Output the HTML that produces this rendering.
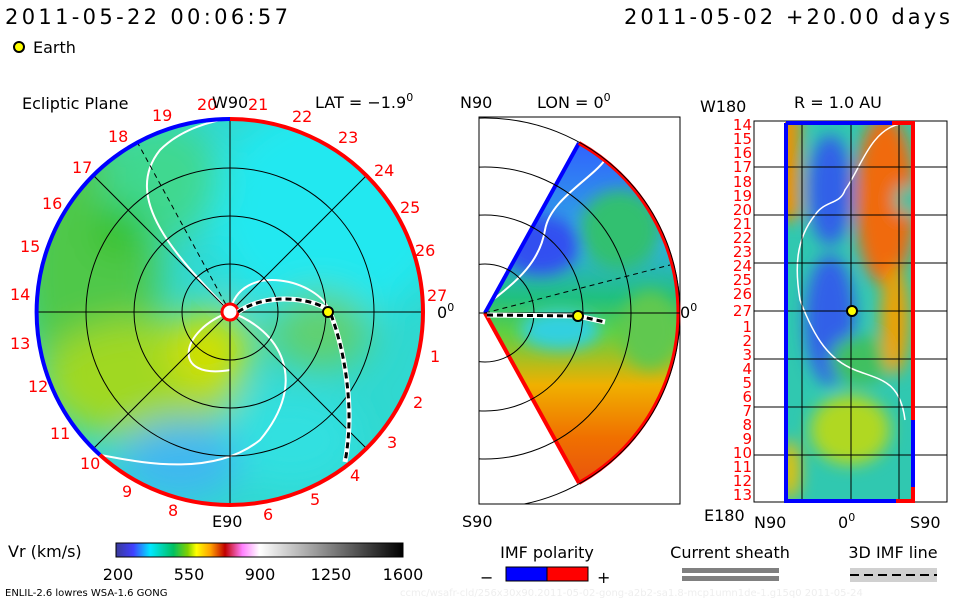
<!DOCTYPE html>
<html><head><meta charset="utf-8"><style>
body{margin:0;background:#fff;width:960px;height:600px;overflow:hidden}
svg{display:block}
text{font-family:"DejaVu Sans","Liberation Sans",sans-serif}
</style></head><body>
<svg width="960" height="600" viewBox="0 0 960 600">
<defs>
<filter id="bl" x="-50%" y="-50%" width="200%" height="200%"><feGaussianBlur stdDeviation="18"/></filter>
<filter id="bl2" x="-50%" y="-50%" width="200%" height="200%"><feGaussianBlur stdDeviation="8"/></filter>
<clipPath id="disc"><circle cx="230" cy="312" r="193"/></clipPath>
<clipPath id="wedge"><path d="M485,313 L579,143 A195,195 0 0 1 579,483 Z"/></clipPath>
<clipPath id="box"><rect x="479" y="117" width="201" height="387"/></clipPath>
<clipPath id="rect"><rect x="785" y="122" width="129" height="380"/></clipPath>
<linearGradient id="cb" x1="0" x2="1">
<stop offset="0" stop-color="#3a3a9a"/><stop offset="0.06" stop-color="#4040ff"/><stop offset="0.12" stop-color="#00e8ff"/>
<stop offset="0.2" stop-color="#00c060"/><stop offset="0.25" stop-color="#80d000"/><stop offset="0.28" stop-color="#ffff00"/>
<stop offset="0.33" stop-color="#ffa000"/><stop offset="0.38" stop-color="#c00000"/><stop offset="0.44" stop-color="#ff80ff"/>
<stop offset="0.5" stop-color="#ffffff"/><stop offset="1" stop-color="#000"/></linearGradient>
<linearGradient id="wg" x1="0" y1="0" x2="0" y2="1">
<stop offset="0" stop-color="#3060ff"/><stop offset="0.3" stop-color="#30b0e0"/><stop offset="0.45" stop-color="#20c080"/>
<stop offset="0.55" stop-color="#60d040"/><stop offset="0.7" stop-color="#f0b000"/><stop offset="0.85" stop-color="#f07000"/><stop offset="1" stop-color="#e85010"/></linearGradient>
</defs>
<rect width="960" height="600" fill="#fff"/>
<text x="5" y="24" font-size="21" textLength="283" lengthAdjust="spacing">2011-05-22 00:06:57</text>
<text x="624" y="24" font-size="21" textLength="326" lengthAdjust="spacing">2011-05-02 +20.00 days</text>
<circle cx="19" cy="47" r="5" fill="#ff0" stroke="#000" stroke-width="2"/>
<text x="33" y="53" font-size="16">Earth</text>
<!-- left disc -->
<g clip-path="url(#disc)">
<rect x="30" y="110" width="400" height="410" fill="#30d8d0"/>
<g filter="url(#bl)">
<ellipse cx="330" cy="210" rx="120" ry="110" fill="#20e8f0"/>
<ellipse cx="90" cy="270" rx="70" ry="130" fill="#50c848"/>
<ellipse cx="140" cy="380" rx="100" ry="60" fill="#a0d820"/>
<ellipse cx="210" cy="350" rx="40" ry="40" fill="#d0e000"/>
<ellipse cx="290" cy="440" rx="70" ry="50" fill="#30e0e0"/>
<ellipse cx="320" cy="330" rx="50" ry="40" fill="#60d070"/>
<ellipse cx="160" cy="180" rx="60" ry="60" fill="#40d890"/>
<ellipse cx="180" cy="460" rx="60" ry="40" fill="#40b8f0"/>
<ellipse cx="120" cy="230" rx="25" ry="25" fill="#30c020"/>
</g>
<g fill="none" stroke="#fff" stroke-width="2">
<path d="M230,312 C180,260 120,200 160,150 C190,120 240,115 270,115"/>
<path d="M230,312 C280,330 310,380 260,440 C210,480 130,460 100,455"/>
<path d="M230,312 C240,260 320,280 330,312"/>
<path d="M230,312 C180,330 170,380 230,370"/>
</g>
<g fill="none" stroke="#000" stroke-width="1">
<circle cx="230" cy="312" r="48"/><circle cx="230" cy="312" r="96"/><circle cx="230" cy="312" r="144"/>
<line x1="30" y1="312" x2="430" y2="312"/><line x1="230" y1="110" x2="230" y2="515"/>
<line x1="90" y1="172" x2="370" y2="452"/><line x1="90" y1="452" x2="370" y2="172"/>
</g>
<line x1="230" y1="312" x2="135" y2="138" stroke="#000" stroke-dasharray="5,4"/>
</g>
<path d="M230,119 A193,193 0 0 1 230,505" fill="none" stroke="#f00" stroke-width="4"/>
<path d="M230,119 A193,193 0 0 0 100,455" fill="none" stroke="#00f" stroke-width="4"/>
<path d="M100,455 A193,193 0 0 0 230,505" fill="none" stroke="#f00" stroke-width="4"/>
<circle cx="230" cy="312" r="8" fill="#fff" stroke="#f00" stroke-width="3"/>
<path d="M238,312 C270,290 320,300 330,312 C345,350 355,410 345,462" fill="none" stroke="#fff" stroke-width="5"/>
<path d="M238,312 C270,290 320,300 330,312 C345,350 355,410 345,462" fill="none" stroke="#000" stroke-width="3" stroke-dasharray="6,4"/>
<circle cx="328" cy="312" r="5" fill="#ff0" stroke="#000" stroke-width="2"/>
<g font-size="16" fill="#f00">
<text x="197" y="110">20</text><text x="248" y="110">21</text><text x="292" y="122">22</text><text x="338" y="143">23</text>
<text x="374" y="176">24</text><text x="400" y="213">25</text><text x="415" y="256">26</text><text x="427" y="301">27</text>
<text x="430" y="362">1</text><text x="413" y="408">2</text><text x="387" y="448">3</text><text x="350" y="481">4</text>
<text x="310" y="505">5</text><text x="263" y="520">6</text><text x="168" y="516">8</text><text x="122" y="497">9</text>
<text x="80" y="469">10</text><text x="50" y="439">11</text><text x="28" y="392">12</text><text x="10" y="349">13</text>
<text x="10" y="300">14</text><text x="20" y="252">15</text><text x="42" y="209">16</text><text x="72" y="173">17</text>
<text x="108" y="142">18</text><text x="152" y="121">19</text>
</g>
<text x="22" y="109" font-size="16">Ecliptic Plane</text>
<text x="212" y="108" font-size="16">W90</text>
<text x="212" y="527" font-size="16">E90</text>
<text x="315" y="108" font-size="16">LAT = −1.9<tspan font-size="11" dy="-7">0</tspan></text>
<text x="437" y="318" font-size="16">0<tspan font-size="11" dy="-7">0</tspan></text>
<!-- middle wedge -->
<rect x="479" y="117" width="201" height="387" fill="none" stroke="#000"/>
<g clip-path="url(#wedge)">
<rect x="479" y="140" width="210" height="350" fill="url(#wg)"/>
<g filter="url(#bl2)">
<ellipse cx="540" cy="245" rx="40" ry="30" fill="#3050f0"/>
<ellipse cx="620" cy="230" rx="40" ry="40" fill="#30c070"/>
<ellipse cx="650" cy="330" rx="30" ry="40" fill="#60c850"/>
<ellipse cx="560" cy="330" rx="40" ry="20" fill="#30d0e0"/>
</g>
<path d="M486,305 C520,280 540,260 545,230 C550,200 590,180 605,160" fill="none" stroke="#fff" stroke-width="2"/>
</g>
<path d="M485,313 L579,143" stroke="#00f" stroke-width="4"/>
<path d="M485,313 L579,483" stroke="#f00" stroke-width="4"/>
<path d="M579,143 A195,195 0 0 1 579,483" fill="none" stroke="#f00" stroke-width="4"/>
<g fill="none" stroke="#000" stroke-width="1" clip-path="url(#box)">
<circle cx="485" cy="313" r="49"/><circle cx="485" cy="313" r="98"/><circle cx="485" cy="313" r="146"/><circle cx="485" cy="313" r="195"/>
<line x1="479" y1="313" x2="680" y2="313"/>
</g>
<line x1="485" y1="313" x2="670" y2="265" stroke="#000" stroke-dasharray="5,4"/>
<path d="M487,315 L578,316 L605,322" fill="none" stroke="#fff" stroke-width="5"/>
<path d="M487,315 L578,316 L605,322" fill="none" stroke="#000" stroke-width="3" stroke-dasharray="6,4"/>
<circle cx="578" cy="316" r="5" fill="#ff0" stroke="#000" stroke-width="2"/>
<text x="460" y="108" font-size="16">N90</text>
<text x="537" y="108" font-size="16">LON = 0<tspan font-size="11" dy="-7">0</tspan></text>
<text x="462" y="527" font-size="16">S90</text>
<text x="680" y="318" font-size="16">0<tspan font-size="11" dy="-7">0</tspan></text>
<!-- right panel -->
<rect x="754" y="121" width="193" height="381" fill="none" stroke="#000"/>
<g clip-path="url(#rect)">
<rect x="785" y="122" width="129" height="380" fill="#30c8b0"/>
<g filter="url(#bl2)">
<rect x="775" y="110" width="25" height="110" fill="#f09000"/>
<ellipse cx="885" cy="200" rx="30" ry="85" fill="#f06a10"/>
<ellipse cx="830" cy="190" rx="22" ry="55" fill="#3060e8"/>
<ellipse cx="830" cy="320" rx="25" ry="65" fill="#3060e8"/>
<ellipse cx="860" cy="360" rx="30" ry="25" fill="#40c060"/>
<ellipse cx="850" cy="430" rx="40" ry="35" fill="#b0d820"/>
<ellipse cx="895" cy="320" rx="14" ry="55" fill="#f0a000"/>
<ellipse cx="790" cy="470" rx="10" ry="30" fill="#f0c000"/>
<ellipse cx="905" cy="200" rx="10" ry="15" fill="#30c0a0"/>
</g>
<path d="M900,124 C870,130 860,170 845,190 C840,205 825,200 815,215 C795,240 795,270 800,300 C815,340 830,360 855,370 C880,380 900,380 905,420" fill="none" stroke="#fff" stroke-width="1.5"/>
</g>
<g stroke="#000" stroke-width="1">
<line x1="754" y1="167" x2="947" y2="167"/><line x1="754" y1="215" x2="947" y2="215"/><line x1="754" y1="263" x2="947" y2="263"/>
<line x1="754" y1="311" x2="947" y2="311"/><line x1="754" y1="359" x2="947" y2="359"/><line x1="754" y1="407" x2="947" y2="407"/>
<line x1="754" y1="455" x2="947" y2="455"/>
<line x1="802" y1="122" x2="802" y2="502"/><line x1="851" y1="122" x2="851" y2="502"/><line x1="899" y1="122" x2="899" y2="502"/>
</g>
<path d="M786,123 L892,123 M786,123 L786,501 L896,501" fill="none" stroke="#00f" stroke-width="4"/>
<path d="M892,123 L913,123 L913,420" fill="none" stroke="#f00" stroke-width="4"/>
<path d="M913,420 L913,487" stroke="#00f" stroke-width="4"/>
<path d="M913,487 L913,501 L896,501" fill="none" stroke="#f00" stroke-width="4"/>
<circle cx="852" cy="311" r="5" fill="#ff0" stroke="#000" stroke-width="2"/>
<g font-size="15" fill="#f00" text-anchor="end">
<text x="752" y="130">14</text><text x="752" y="144">15</text><text x="752" y="158">16</text><text x="752" y="172">17</text>
<text x="752" y="187">18</text><text x="752" y="201">19</text><text x="752" y="215">20</text><text x="752" y="229">21</text>
<text x="752" y="243">22</text><text x="752" y="257">23</text><text x="752" y="271">24</text><text x="752" y="285">25</text>
<text x="752" y="299">26</text><text x="752" y="316">27</text><text x="752" y="332">1</text><text x="752" y="346">2</text>
<text x="752" y="360">3</text><text x="752" y="374">4</text><text x="752" y="388">5</text><text x="752" y="402">6</text>
<text x="752" y="416">7</text><text x="752" y="430">8</text><text x="752" y="444">9</text><text x="752" y="458">10</text>
<text x="752" y="472">11</text><text x="752" y="486">12</text><text x="752" y="500">13</text>
</g>
<text x="700" y="112" font-size="16">W180</text>
<text x="794" y="108" font-size="16">R = 1.0 AU</text>
<text x="704" y="521" font-size="16">E180</text>
<text x="754" y="528" font-size="16">N90</text>
<text x="838" y="528" font-size="16">0<tspan font-size="11" dy="-7">0</tspan></text>
<text x="910" y="528" font-size="16">S90</text>
<!-- colorbar -->
<text x="8" y="557" font-size="16">Vr (km/s)</text>
<rect x="116" y="543" width="287" height="14" fill="url(#cb)" stroke="#000"/>
<g font-size="16" text-anchor="middle"><text x="118" y="580">200</text><text x="189" y="580">550</text><text x="260" y="580">900</text><text x="331" y="580">1250</text><text x="403" y="580">1600</text></g>
<text x="5" y="596" font-size="10">ENLIL-2.6 lowres WSA-1.6 GONG</text>
<text x="400" y="596" font-size="10" fill="#eee">ccmc/wsafr-cld/256x30x90.2011-05-02-gong-a2b2-sa1.8-mcp1umn1de-1.g15q0   2011-05-24</text>
<text x="547" y="558" font-size="16" text-anchor="middle">IMF polarity</text>
<text x="480" y="583" font-size="16">−</text>
<rect x="506" y="567" width="41" height="14" fill="#00f" stroke="#000"/><rect x="547" y="567" width="41" height="14" fill="#f00" stroke="#000"/>
<text x="597" y="583" font-size="16">+</text>
<text x="730" y="558" font-size="16" text-anchor="middle">Current sheath</text>
<rect x="682" y="568" width="97" height="5" fill="#808080"/><rect x="682" y="576" width="97" height="5" fill="#808080"/>
<text x="893" y="558" font-size="16" text-anchor="middle">3D IMF line</text>
<rect x="850" y="568" width="87" height="14" fill="#d0d0d0"/>
<line x1="850" y1="575" x2="937" y2="575" stroke="#000" stroke-width="2" stroke-dasharray="9,5"/>
</svg>
</body></html>
